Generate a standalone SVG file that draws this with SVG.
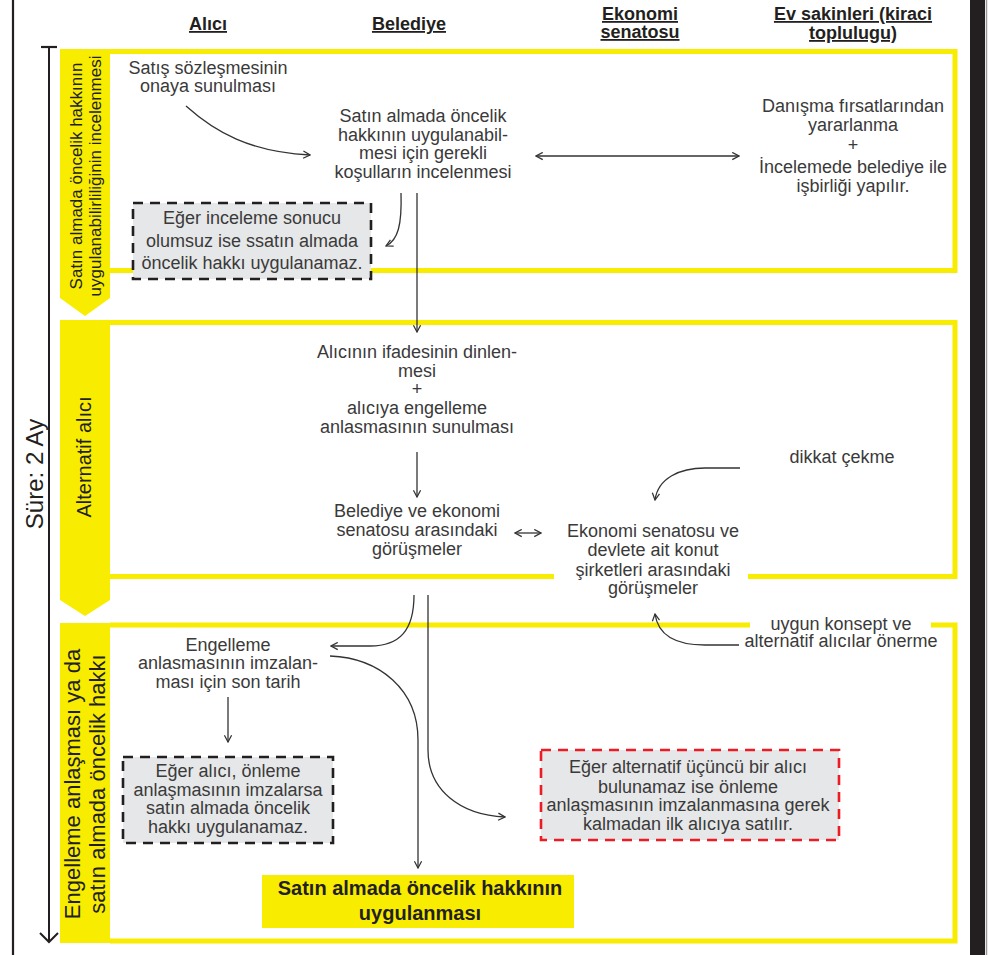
<svg xmlns="http://www.w3.org/2000/svg" width="998" height="955" viewBox="0 0 998 955">
<style>
.t{font-family:"Liberation Sans",Arial,sans-serif;font-size:18px;fill:#3a3a3a;text-anchor:middle}
.h{font-family:"Liberation Sans",Arial,sans-serif;font-size:18px;font-weight:bold;fill:#231f20;text-anchor:middle;text-decoration:underline}
.v{font-family:"Liberation Sans",Arial,sans-serif;fill:#231f20;text-anchor:middle}
.y{fill:#f8ec00}
.ys{fill:none;stroke:#f8ec00;stroke-width:5}
.c{fill:none;stroke:#333;stroke-width:1.3}
.a{marker-end:url(#ah)}
.d{marker-start:url(#ah);marker-end:url(#ah)}
.box{fill:#e6e7e8;stroke:#231f20;stroke-width:2.6;stroke-dasharray:10 7}
.rbox{fill:#e6e7e8;stroke:#ed1c24;stroke-width:2.6;stroke-dasharray:10 7}
</style>
<defs>
<marker id="ah" viewBox="0 0 10 10" refX="9" refY="5" markerWidth="9" markerHeight="9" markerUnits="userSpaceOnUse" orient="auto-start-reverse">
<path d="M1.5,1 L9,5 L1.5,9" fill="none" stroke="#333" stroke-width="1.4"/>
</marker>
</defs>
<rect width="998" height="955" fill="#fff"/>
<g id="frame">
<line x1="13" y1="0" x2="13" y2="955" stroke="#231f20" stroke-width="2.2"/>
<rect x="970" y="0" width="15" height="955" fill="#231f20"/>
<line x1="986.5" y1="0" x2="986.5" y2="955" stroke="#9a9a9a" stroke-width="1.5"/>
</g>
<g id="headers">
<text class="h" x="208" y="30">Alıcı</text>
<text class="h" x="409" y="30">Belediye</text>
<text class="h" x="640" y="20">Ekonomi</text>
<text class="h" x="640" y="38">senatosu</text>
<text class="h" x="853" y="20">Ev sakinleri (kiraci</text>
<text class="h" x="853" y="39">toplulugu)</text>
</g>
<g id="timeline">
<line x1="49" y1="47" x2="49" y2="941" stroke="#231f20" stroke-width="2"/>
<line x1="41" y1="47" x2="57" y2="47" stroke="#231f20" stroke-width="2.2"/>
<path d="M40,933 L49,942 L58,933" fill="none" stroke="#231f20" stroke-width="2"/>
<text class="v" font-size="24" transform="translate(43,474) rotate(-90)">Süre: 2 Ay</text>
</g>
<g id="section1">
<path class="ys" d="M110,51.5 H955 V270.5 H110"/>
<path class="y" d="M60,49 H110 V298 L85,316 L60,298 Z"/>
<text class="v" font-size="17" transform="translate(82,176) rotate(-90)">Satın almada öncelik hakkının</text>
<text class="v" font-size="17" transform="translate(101,176) rotate(-90)">uygulanabilirliliğinin incelenmesi</text>
</g>
<g id="section2">
<path class="ys" d="M110,322.5 H955 V576.5 H748 M554,576.5 H110"/>
<path class="y" d="M60,320 H110 V600 L85,616 L60,600 Z"/>
<text class="v" font-size="20" transform="translate(91,457) rotate(-90)">Alternatif alıcı</text>
</g>
<g id="section3">
<path class="ys" d="M110,625 H750 M931,625 H955 V941 H110"/>
<path class="y" d="M60,623 H110 V943 H60 Z"/>
<text class="v" font-size="22" transform="translate(80,784) rotate(-90)">Engelleme anlaşması ya da</text>
<text class="v" font-size="22" transform="translate(105,784) rotate(-90)">satın almada öncelik hakkı</text>
</g>
<g id="n-satis">
<text class="t" x="208" y="74">Satış sözleşmesinin</text>
<text class="t" x="208" y="92">onaya sunulması</text>
</g>
<g id="n-inceleme">
<text class="t" x="423" y="122">Satın almada öncelik</text>
<text class="t" x="423" y="141">hakkının uygulanabil-</text>
<text class="t" x="423" y="159">mesi için gerekli</text>
<text class="t" x="423" y="178">koşulların incelenmesi</text>
</g>
<g id="n-danisma">
<text class="t" x="853" y="112">Danışma fırsatlarından</text>
<text class="t" x="853" y="131">yararlanma</text>
<text class="t" x="853" y="151">+</text>
<text class="t" x="853" y="173">İncelemede belediye ile</text>
<text class="t" x="853" y="192">işbirliği yapılır.</text>
</g>
<g id="n-olumsuz">
<rect class="box" x="133" y="203" width="238" height="76"/>
<text class="t" x="252" y="224">Eğer inceleme sonucu</text>
<text class="t" x="252" y="247">olumsuz ise ssatın almada</text>
<text class="t" x="252" y="269">öncelik hakkı uygulanamaz.</text>
</g>
<g id="n-ifade">
<text class="t" x="417" y="358">Alıcının ifadesinin dinlen-</text>
<text class="t" x="417" y="377">mesi</text>
<text class="t" x="417" y="395">+</text>
<text class="t" x="417" y="414">alıcıya engelleme</text>
<text class="t" x="417" y="433">anlasmasının sunulması</text>
</g>
<g id="n-gorusme1">
<text class="t" x="417" y="517">Belediye ve ekonomi</text>
<text class="t" x="417" y="536">senatosu arasındaki</text>
<text class="t" x="417" y="555">görüşmeler</text>
</g>
<g id="n-gorusme2">
<text class="t" x="653" y="537">Ekonomi senatosu ve</text>
<text class="t" x="653" y="556">devlete ait konut</text>
<text class="t" x="653" y="576">şirketleri arasındaki</text>
<text class="t" x="653" y="594">görüşmeler</text>
</g>
<g id="n-dikkat">
<text class="t" x="842" y="463">dikkat çekme</text>
</g>
<g id="n-uygun">
<text class="t" x="841" y="630">uygun konsept ve</text>
<text class="t" x="841" y="647">alternatif alıcılar önerme</text>
</g>
<g id="n-sontarih">
<text class="t" x="228" y="651">Engelleme</text>
<text class="t" x="228" y="669">anlasmasının imzalan-</text>
<text class="t" x="228" y="688">ması için son tarih</text>
</g>
<g id="n-imzalarsa">
<rect class="box" x="123" y="757" width="210" height="86"/>
<text class="t" x="228" y="777">Eğer alıcı, önleme</text>
<text class="t" x="228" y="796">anlaşmasının imzalarsa</text>
<text class="t" x="228" y="814">satın almada öncelik</text>
<text class="t" x="228" y="833">hakkı uygulanamaz.</text>
</g>
<g id="n-alternatif">
<rect class="rbox" x="541" y="750" width="298" height="90"/>
<text class="t" x="688" y="773">Eğer alternatif üçüncü bir alıcı</text>
<text class="t" x="688" y="793">bulunamaz ise önleme</text>
<text class="t" x="688" y="811">anlaşmasının imzalanmasına gerek</text>
<text class="t" x="688" y="830">kalmadan ilk alıcıya satılır.</text>
</g>
<g id="n-uygulanma">
<rect x="262" y="875" width="312" height="53" fill="#f8ec00"/>
<text class="v" font-size="20" font-weight="bold" x="420" y="895">Satın almada öncelik hakkının</text>
<text class="v" font-size="20" font-weight="bold" x="420" y="920">uygulanması</text>
</g>
<g id="connectors">
<path class="c a" d="M186,106 C215,132 250,152 310,155"/>
<path class="c d" d="M536,156 H739"/>
<path class="c a" d="M401,193 C402,225 398,240 386,246"/>
<path class="c a" d="M417,193 V332"/>
<path class="c a" d="M417,452 V497"/>
<path class="c d" d="M515,533 H541"/>
<path class="c a" d="M740,468 H705 C680,468 658,478 655,500"/>
<path class="c a" d="M739,645 H705 C675,645 658,635 655,614"/>
<path class="c a" d="M414,595 C414,630 400,646 370,646 H331"/>
<path class="c a" d="M428,595 V750 C428,790 460,815 505,817"/>
<path class="c a" d="M330,656 C380,658 418,690 418,740 V868"/>
<path class="c a" d="M228,697 V742"/>
</g>
</svg>
